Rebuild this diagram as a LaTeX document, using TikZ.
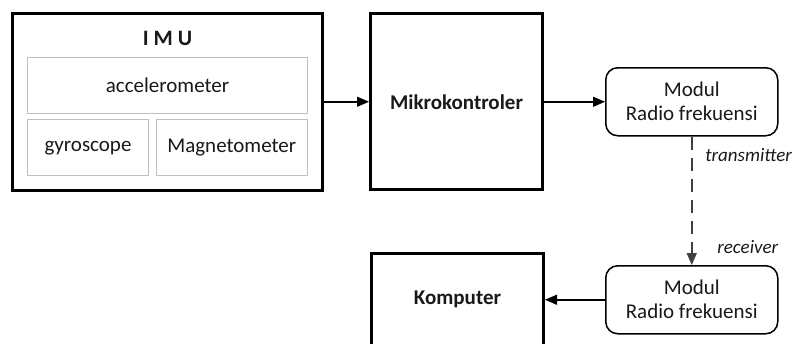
\documentclass[tikz,border=0pt]{standalone}
\usepackage{fontspec}
\setmainfont{Carlito}
\usetikzlibrary{arrows.meta, positioning}
\tikzstyle{block}=[rectangle, draw=black, line width=3pt, minimum width=172pt, minimum height=176pt, font=\bfseries\fontsize{21}{24}\selectfont]
\tikzstyle{part}=[rectangle, draw=black!25, line width=1pt, minimum height=56pt, font=\fontsize{21}{24}\selectfont]
\tikzstyle{modul}=[rectangle, rounded corners=12pt, draw=black, line width=1.5pt, minimum width=172pt, minimum height=68pt, align=center, font=\fontsize{21}{24}\selectfont]
\tikzstyle{note}=[font=\itshape\fontsize{19}{22}\selectfont]
\tikzstyle{link}=[line width=1.5pt]
\tikzstyle{radio}=[->, line width=1.5pt, draw=black!75, dash pattern=on 13pt off 8pt]

\begin{document}
\begin{tikzpicture}[x=1pt, y=-1pt, >={Triangle[length=12pt, width=10pt]}, text=black!90]
  \useasboundingbox (0,0) rectangle (794,343);
  \clip (0,0) rectangle (794,343);
  % sensor unit
  \node [block, minimum width=310pt, minimum height=177pt] (imu) at (167.5,101.75) {};
  \node [font=\bfseries\fontsize{22}{26}\selectfont] (imutitle) [below=16pt of imu.north] {I M U};
  \node [part, minimum width=280pt] (acc) [below=45pt of imu.north] {accelerometer};
  \node [part, minimum width=121pt] (gyro) [below right=5.5pt and 0pt of acc.south west] {gyroscope};
  \node [part, minimum width=151.5pt] (magneto) [below left=5.5pt and 0pt of acc.south east] {Magnetometer};

  \node [block] (mikro) [right=45pt of imu] {Mikrokontroler}
        edge [link, <-] (imu);
  \node [modul] (modtx) [right=61pt of mikro] {Modul\\Radio frekuensi}
        edge [link, <-] (mikro);
  \node [modul] (modrx) [below=128.5pt of modtx] {Modul\\Radio frekuensi};
  \node [block, minimum height=92pt] (komputer) [left=60pt of modrx] {Komputer}
        edge [link, <-] (modrx);
  \draw [radio] (modtx) -- (modrx);

  \node [note] (txlabel) [below right=8pt and 10pt of modtx.south] {transmitter};
  \node [note] (rxlabel) [above right=8pt and 22pt of modrx.north] {receiver};
\end{tikzpicture}
\end{document}
